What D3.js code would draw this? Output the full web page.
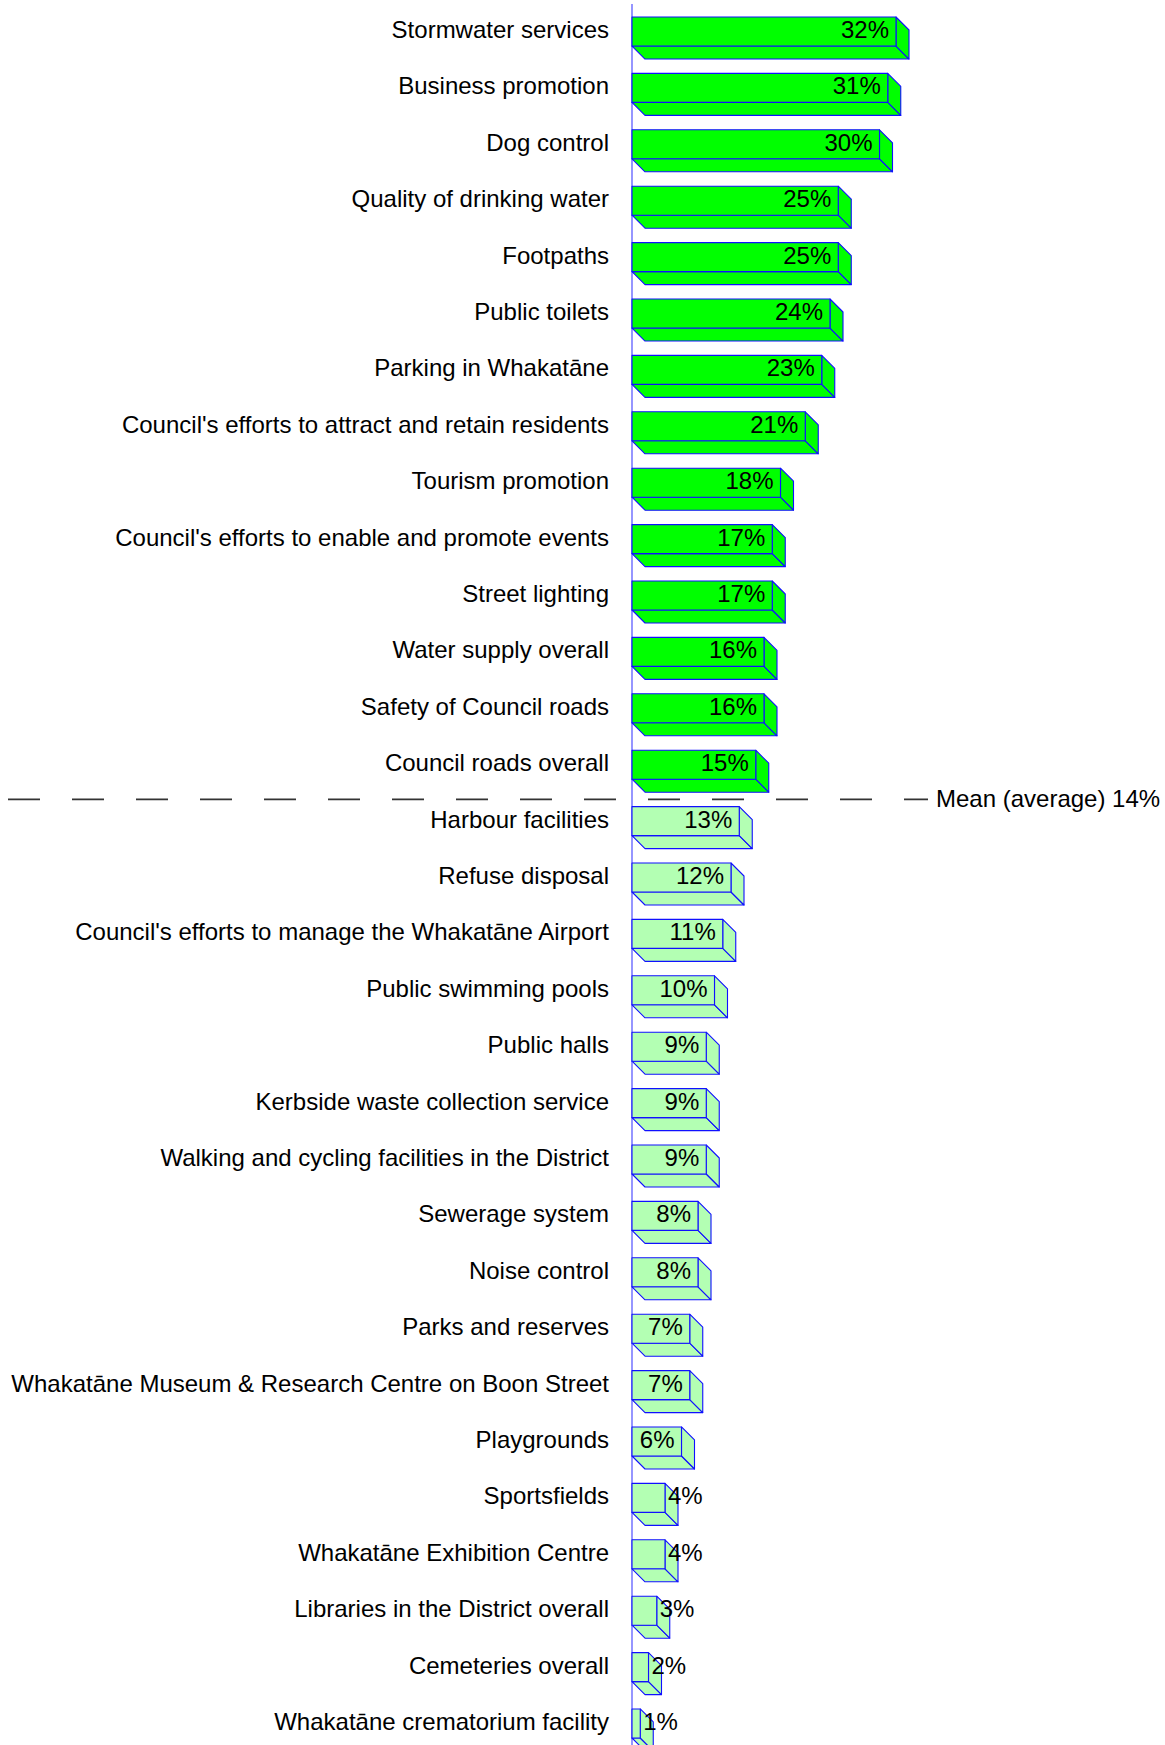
<!DOCTYPE html>
<html>
<head>
<meta charset="utf-8">
<script src="https://cdn.jsdelivr.net/npm/d3@7/dist/d3.min.js"></script>
<style>
  body { margin: 0; background: #fff; }
  svg text { font-family: "Liberation Sans", Arial, Helvetica, sans-serif; font-size: 24px; fill: #000; }
</style>
</head>
<body>
<div id="chart"></div>
<script>
const categories = [
    "Stormwater services",
    "Business promotion",
    "Dog control",
    "Quality of drinking water",
    "Footpaths",
    "Public toilets",
    "Parking in Whakatāne",
    "Council's efforts to attract and retain residents",
    "Tourism promotion",
    "Council's efforts to enable and promote events",
    "Street lighting",
    "Water supply overall",
    "Safety of Council roads",
    "Council roads overall",
    "Harbour facilities",
    "Refuse disposal",
    "Council's efforts to manage the Whakatāne Airport",
    "Public swimming pools",
    "Public halls",
    "Kerbside waste collection service",
    "Walking and cycling facilities in the District",
    "Sewerage system",
    "Noise control",
    "Parks and reserves",
    "Whakatāne Museum & Research Centre on Boon Street",
    "Playgrounds",
    "Sportsfields",
    "Whakatāne Exhibition Centre",
    "Libraries in the District overall",
    "Cemeteries overall",
    "Whakatāne crematorium facility"
];

const values = [32, 31, 30, 25, 25, 24, 23, 21, 18, 17, 17, 16, 16, 15,
                13, 12, 11, 10, 9, 9, 9, 8, 8, 7, 7, 6, 4, 4, 3, 2, 1];

const meanValue = 14;
const meanLabel = "Mean (average) 14%";

const width = 1165, height = 1745;
const depth = 13;
const axisX = 632;

const svg = d3.select("#chart")
    .append("svg")
    .attr("width", width)
    .attr("height", height);

const xScale = d3.scaleLinear().domain([0, 32]).range([axisX, 896]);
const yScale = d3.scaleBand().domain(categories).range([17, 1751]).paddingInner(0.255);

const frontH = yScale.bandwidth() - depth;
const textShift = -2;

const data = categories.map((c, i) => ({ name: c, value: values[i] }));

// axis line
svg.append("line")
    .attr("x1", axisX).attr("x2", axisX)
    .attr("y1", 4).attr("y2", height)
    .attr("stroke", "#7b7bff")
    .attr("stroke-width", 1.6);

// category labels
svg.append("g")
    .selectAll("text")
    .data(data)
    .enter()
    .append("text")
    .attr("x", 609)
    .attr("y", d => yScale(d.name) + frontH / 2 + textShift)
    .attr("text-anchor", "end")
    .attr("dominant-baseline", "central")
    .text(d => d.name);

const bars = svg.append("g")
    .selectAll("g")
    .data(data)
    .enter()
    .append("g")
    .attr("fill", d => d.value > meanValue ? "#00ff00" : "#b3ffb3")
    .attr("stroke", "#1010ff")
    .attr("stroke-width", 1.1)
    .attr("stroke-linejoin", "round");

// bottom face
bars.append("polygon")
    .attr("points", d => {
        const x0 = xScale(0), x1 = xScale(d.value), yb = yScale(d.name) + frontH;
        return [[x0, yb], [x1, yb], [x1 + depth, yb + depth], [x0 + depth, yb + depth]].join(" ");
    });

// side face
bars.append("polygon")
    .attr("points", d => {
        const x1 = xScale(d.value), yt = yScale(d.name), yb = yt + frontH;
        return [[x1, yt], [x1 + depth, yt + depth], [x1 + depth, yb + depth], [x1, yb]].join(" ");
    });

// front face
bars.append("rect")
    .attr("x", xScale(0))
    .attr("y", d => yScale(d.name))
    .attr("width", d => xScale(d.value) - xScale(0))
    .attr("height", frontH);

// value labels
svg.append("g")
    .selectAll("text")
    .data(data)
    .enter()
    .append("text")
    .attr("y", d => yScale(d.name) + frontH / 2 + textShift)
    .attr("dominant-baseline", "central")
    .text(d => d.value + "%")
    .each(function(d) {
        const tw = this.getComputedTextLength();
        const barW = xScale(d.value) - xScale(0);
        const sel = d3.select(this);
        if (barW >= tw + 12) {
            sel.attr("x", xScale(d.value) - 7).attr("text-anchor", "end");
        } else {
            sel.attr("x", xScale(d.value) + 3).attr("text-anchor", "start");
        }
    });

// mean line between last bar above mean and first bar below
const above = data.filter(d => d.value > meanValue);
const below = data.filter(d => d.value <= meanValue);
const meanY = ((yScale(above[above.length - 1].name) + yScale.bandwidth()) + yScale(below[0].name)) / 2;

svg.append("line")
    .attr("x1", 8).attr("x2", 928)
    .attr("y1", meanY).attr("y2", meanY)
    .attr("stroke", "#333")
    .attr("stroke-width", 1.6)
    .attr("stroke-dasharray", "32,32");

svg.append("text")
    .attr("x", 936)
    .attr("y", meanY - 1)
    .attr("dominant-baseline", "central")
    .text(meanLabel);
</script>
</body>
</html>
